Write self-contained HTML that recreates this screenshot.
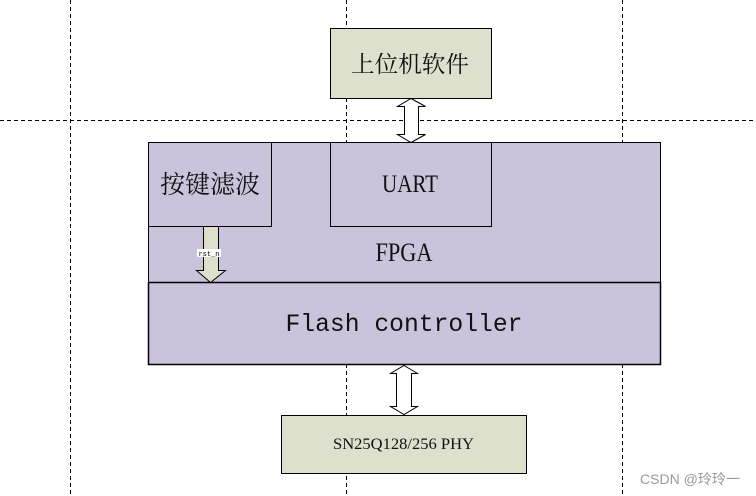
<!DOCTYPE html>
<html><head><meta charset="utf-8"><style>
html,body{margin:0;padding:0;background:#fff;width:756px;height:496px;overflow:hidden}
svg{display:block}
</style></head><body>
<svg width="756" height="496" viewBox="0 0 756 496" xmlns="http://www.w3.org/2000/svg">
<g stroke="#000" stroke-width="1" stroke-dasharray="4,3" fill="none">
<line x1="70.5" y1="0" x2="70.5" y2="496"/>
<line x1="346.5" y1="0" x2="346.5" y2="496"/>
<line x1="622.5" y1="0" x2="622.5" y2="496"/>
<line x1="0" y1="120.5" x2="756" y2="120.5"/>
</g>
<rect x="330.5" y="28.5" width="161" height="70" fill="#dde0cc" stroke="#000"/>
<text x="410" y="72" font-family="'Liberation Serif','Noto Serif CJK SC','Noto Sans CJK SC',serif" font-size="23" text-anchor="middle" fill="#111" textLength="118" lengthAdjust="spacingAndGlyphs">上位机软件</text>
<rect x="148.5" y="142.5" width="512" height="140" fill="#cbc3dc" stroke="#000"/>
<rect x="148.5" y="282.5" width="512" height="82" fill="#cbc3dc" stroke="#000" stroke-width="1.5"/>
<rect x="148.5" y="142.5" width="123" height="84" fill="#cbc3dc" stroke="#000"/>
<rect x="330.5" y="142.5" width="161" height="84" fill="#cbc3dc" stroke="#000"/>
<text x="210" y="193" font-family="'Liberation Serif','Noto Serif CJK SC','Noto Sans CJK SC',serif" font-size="25" text-anchor="middle" fill="#111">按键滤波</text>
<text x="410" y="192" font-family="'Liberation Serif',serif" font-size="25" text-anchor="middle" fill="#111" textLength="56" lengthAdjust="spacingAndGlyphs">UART</text>
<text x="404" y="261" font-family="'Liberation Serif',serif" font-size="26" text-anchor="middle" fill="#111" textLength="57" lengthAdjust="spacingAndGlyphs">FPGA</text>
<text x="404" y="331" font-family="'Liberation Mono',monospace" font-size="25" text-anchor="middle" fill="#111" textLength="237" lengthAdjust="spacingAndGlyphs">Flash controller</text>
<polygon points="203.5,226.5 218.5,226.5 218.5,270.5 225.5,270.5 210.5,282.5 196.5,270.5 203.5,270.5" fill="#dde0cc" stroke="#000"/>
<rect x="197" y="249" width="24" height="8" fill="#fff"/>
<text x="209" y="256" font-family="'Liberation Mono',monospace" font-size="7" text-anchor="middle" fill="#000">rst_n</text>
<polygon points="411,98.5 425.5,106.5 418.5,106.5 418.5,134.5 425.5,134.5 411,142.5 397.5,134.5 404.5,134.5 404.5,106.5 397.5,106.5" fill="#fff" stroke="#000"/>
<polygon points="404,365.5 417.5,373.5 411.5,373.5 411.5,406.5 417.5,406.5 404,414.5 390.5,406.5 396.5,406.5 396.5,373.5 390.5,373.5" fill="#fff" stroke="#000"/>
<rect x="281.5" y="415.5" width="245" height="58" fill="#dde0cc" stroke="#000"/>
<text x="403.5" y="449" font-family="'Liberation Serif',serif" font-size="16" text-anchor="middle" fill="#111" textLength="141" lengthAdjust="spacingAndGlyphs">SN25Q128/256 PHY</text>
<text x="690" y="484" font-family="'Liberation Sans','Noto Sans CJK SC',sans-serif" font-size="14" text-anchor="middle" fill="#999" textLength="100" lengthAdjust="spacingAndGlyphs">CSDN @玲玲一</text>
</svg>
</body></html>
